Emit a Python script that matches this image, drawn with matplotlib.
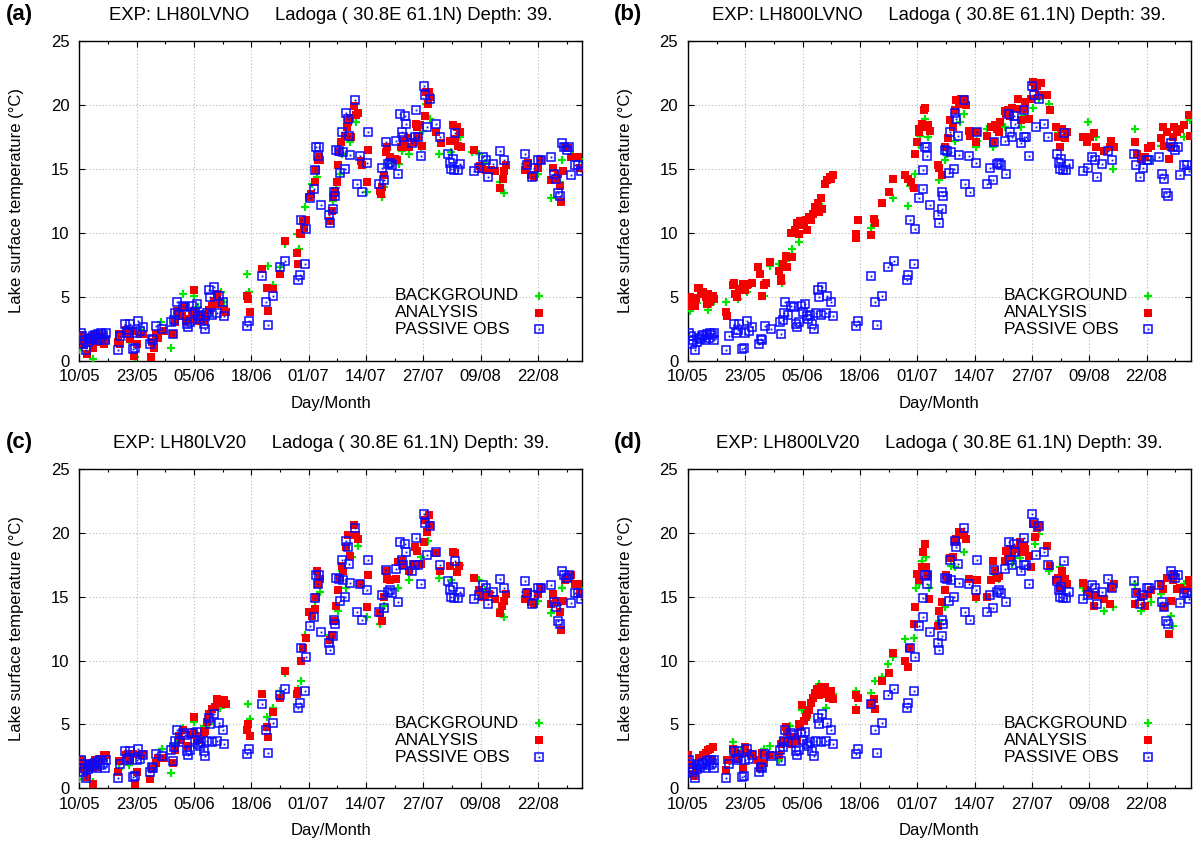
import numpy as np
from matplotlib import pyplot as plt

plt.rcParams["font.family"] = ["Liberation Sans", "DejaVu Sans"]

# x axis: days counted from 10 May
tick_days = [0, 13, 26, 39, 52, 65, 78, 91, 104]
tick_labels = ["10/05", "23/05", "05/06", "18/06", "01/07", "14/07", "27/07", "09/08", "22/08"]
y_ticks = [0, 5, 10, 15, 20, 25]

# passive observations (same in all four experiments), (day, temperature)
obs = [
    (0.3, 2.2), (0.6, 1.9), (0.9, 1.3), (1.2, 1.6), (1.6, 0.8), (2.0, 1.5), (2.4, 1.8), (2.8, 1.7),
    (3.1, 1.9), (3.5, 2.0), (3.9, 1.6), (4.3, 2.1), (4.7, 1.8), (5.0, 2.2), (5.4, 2.0), (5.8, 1.6),
    (6.0, 2.2), (8.7, 0.8), (9.2, 1.9), (10.4, 2.9), (10.8, 2.2), (11.3, 2.4), (11.6, 2.9), (12.2, 0.9),
    (12.6, 1.0), (13.0, 2.2), (13.3, 3.1), (13.8, 2.3), (14.5, 2.6), (16.1, 1.3), (16.5, 1.7), (16.8, 1.6),
    (17.4, 2.7), (18.8, 2.5), (20.8, 3.0), (21.2, 2.1), (21.5, 3.2), (21.7, 3.7), (22.1, 4.6), (22.6, 3.6),
    (23.4, 4.3), (24.0, 4.2), (24.5, 2.9), (24.7, 2.6), (25.1, 3.0), (25.6, 4.3), (26.2, 3.8), (26.6, 4.4),
    (26.9, 3.5), (27.3, 3.3), (27.7, 3.6), (28.2, 2.9), (28.6, 2.5), (29.0, 3.7), (29.4, 5.5), (29.7, 5.0),
    (30.1, 3.6), (30.5, 5.8), (31.2, 3.7), (31.6, 5.1), (32.5, 4.6), (32.9, 3.5), (38.1, 2.7), (38.5, 3.1),
    (41.5, 6.6), (42.4, 4.6), (42.8, 2.8), (43.9, 5.1), (45.4, 7.3), (46.7, 7.8), (49.6, 6.3), (50.0, 6.7),
    (50.3, 11.0), (51.2, 7.6), (51.5, 10.3), (52.3, 12.7), (53.2, 13.4), (53.4, 14.9), (53.7, 16.7), (54.1, 16.0),
    (54.3, 16.7), (54.8, 12.2), (56.6, 11.4), (56.9, 10.8), (57.5, 11.9), (57.7, 13.2), (57.9, 12.9), (58.2, 16.5),
    (58.8, 16.4), (59.1, 14.7), (59.5, 17.9), (59.7, 16.3), (60.3, 15.0), (60.5, 19.4), (60.9, 18.9), (61.2, 17.6),
    (61.4, 16.1), (62.5, 20.4), (62.9, 13.8), (63.7, 16.0), (64.0, 13.2), (65.3, 15.5), (65.5, 17.9), (67.9, 13.8),
    (68.6, 15.1), (69.2, 14.1), (69.5, 17.1), (70.1, 15.4), (70.5, 15.5), (71.0, 15.3), (71.8, 17.2), (72.2, 14.6),
    (72.7, 19.3), (73.1, 17.9), (73.5, 17.5), (73.9, 19.1), (74.1, 18.5), (75.5, 17.0), (76.1, 17.5), (76.3, 19.6),
    (76.7, 17.5), (77.4, 16.0), (78.1, 21.5), (78.5, 20.8), (78.9, 18.3), (79.5, 20.5), (80.8, 18.5), (81.7, 17.5),
    (83.6, 16.2), (84.1, 15.5), (84.4, 15.0), (84.7, 15.8), (85.0, 14.9), (85.3, 17.8), (85.8, 14.9), (86.4, 15.4),
    (89.5, 14.8), (90.7, 15.1), (91.6, 15.9), (92.2, 15.7), (92.7, 14.4), (93.9, 15.4), (95.3, 16.4), (96.2, 15.7),
    (101.1, 16.2), (101.5, 15.3), (102.6, 14.4), (103.1, 15.1), (104.1, 15.7), (104.6, 15.7), (106.9, 15.9), (107.6, 14.6),
    (108.0, 14.2), (108.5, 13.1), (108.9, 12.9), (109.5, 17.0), (110.0, 16.7), (110.5, 16.5), (111.1, 16.7), (111.6, 14.5),
    (112.4, 15.3), (113.2, 15.3), (113.7, 14.8),
]

# (a) LH80LVNO
an_a = [
    (0.0, 1.6), (0.5, 2.0), (1.0, 1.2), (1.4, 1.7), (1.8, 0.5), (2.2, 1.4), (2.6, 1.8), (3.0, 1.0), (3.5, 2.0),
    (4.0, 1.5), (4.7, 1.7), (5.2, 1.9), (5.7, 1.3), (6.1, 1.6), (8.8, 1.5), (9.0, 2.1), (9.2, 1.3), (10.5, 2.4),
    (11.0, 2.1), (11.6, 1.7), (12.0, 2.3), (12.5, 0.4), (13.0, 1.3), (13.7, 2.1), (14.5, 2.1), (16.2, 0.3),
    (16.5, 1.5), (16.9, 1.0), (17.4, 2.1), (17.8, 1.8), (19.1, 2.3), (21.2, 2.1), (21.7, 3.0), (22.1, 3.9),
    (22.5, 3.7), (23.2, 3.5), (23.8, 4.2), (24.3, 3.1), (25.1, 3.3), (25.6, 3.7), (26.0, 5.5), (26.1, 3.9),
    (26.6, 3.1), (27.3, 3.5), (27.8, 3.6), (28.2, 3.1), (28.8, 3.4), (29.4, 4.0), (30.0, 4.3), (30.6, 4.7),
    (31.2, 5.2), (31.6, 4.6), (32.0, 4.4), (32.7, 4.0), (33.2, 3.8), (38.1, 5.1), (38.3, 4.8), (38.7, 3.8),
    (41.5, 7.2), (42.6, 5.7), (42.8, 3.9), (43.9, 5.6), (45.4, 6.8), (46.6, 9.4), (49.3, 8.4), (49.7, 7.6),
    (50.0, 10.0), (50.3, 9.9), (50.7, 10.9), (51.0, 10.4), (51.5, 11.0), (52.1, 12.8), (52.5, 13.0), (53.4, 14.0),
    (53.7, 14.9), (54.1, 15.7), (54.3, 15.9), (54.6, 15.7), (56.9, 10.9), (57.2, 11.7), (57.5, 12.8), (58.0, 13.3),
    (58.4, 14.0), (58.7, 15.3), (59.0, 16.3), (59.4, 17.1), (60.2, 17.6), (60.6, 18.3), (61.0, 18.7), (61.3, 19.0),
    (61.6, 17.5), (62.4, 19.9), (62.8, 19.2), (63.1, 19.4), (63.8, 15.6), (64.2, 15.3), (65.2, 14.0), (65.5, 16.5),
    (68.1, 13.3), (68.5, 13.0), (68.6, 13.6), (69.1, 14.5), (69.6, 16.3), (69.8, 16.7), (70.5, 15.9), (71.5, 15.8),
    (72.0, 15.7), (73.0, 16.7), (73.3, 17.2), (74.5, 17.4), (74.8, 16.7), (75.8, 17.1), (76.3, 18.5), (76.6, 18.3),
    (76.9, 17.6), (77.2, 18.4), (77.8, 16.8), (78.3, 19.1), (78.7, 21.0), (79.0, 20.1), (79.3, 21.0), (79.6, 20.6),
    (81.0, 17.9), (82.0, 17.0), (84.1, 17.2), (84.7, 18.4), (85.1, 17.3), (85.6, 18.3), (85.9, 16.8), (86.3, 17.9),
    (86.5, 16.7), (89.5, 16.5), (90.9, 15.2), (91.3, 15.0), (92.3, 14.9), (93.4, 14.9), (94.2, 14.8), (95.5, 13.5),
    (96.0, 14.2), (96.4, 14.8), (96.8, 15.3), (101.1, 14.9), (101.7, 15.5), (102.4, 14.5), (103.2, 14.4),
    (104.1, 15.1), (104.6, 15.7), (106.9, 14.1), (107.4, 15.1), (108.0, 14.2), (108.6, 14.6), (109.1, 13.7),
    (109.3, 12.4), (109.7, 14.8), (110.2, 16.7), (110.8, 16.6), (111.4, 15.9), (112.3, 15.9), (113.2, 15.9),
    (113.6, 15.1),
]
bg_a = [
    (0.0, 0.8), (0.8, 1.5), (3.1, 0.1), (4.5, 1.9), (9.0, 1.4), (11.3, 1.6), (12.6, 0.3), (14.0, 2.4), (16.5, 1.2),
    (18.5, 3.0), (20.8, 1.0), (22.0, 3.4), (23.4, 5.2), (26.0, 5.1), (27.0, 4.2), (29.0, 3.6), (31.0, 4.9),
    (32.2, 5.4), (32.8, 4.6), (38.1, 6.8), (38.4, 5.4), (42.8, 7.4), (43.9, 5.9), (45.4, 7.3), (46.7, 9.1),
    (49.3, 9.9), (49.9, 8.7), (51.2, 12.0), (52.8, 13.8), (53.8, 14.4), (54.6, 15.7), (56.6, 11.7), (57.5, 12.5),
    (58.3, 13.5), (59.1, 14.6), (59.5, 16.2), (60.5, 17.6), (61.4, 17.1), (62.7, 18.7), (64.0, 15.4), (65.3, 13.2),
    (68.6, 12.8), (69.0, 13.6), (70.0, 15.5), (72.4, 15.4), (73.1, 16.4), (74.8, 16.2), (77.4, 16.7), (78.0, 18.0),
    (78.6, 20.1), (79.5, 18.9), (81.5, 16.2), (84.4, 16.3), (86.4, 17.5), (89.0, 16.3), (90.7, 16.2), (92.0, 15.5),
    (95.3, 14.0), (96.2, 13.1), (101.1, 15.4), (104.1, 14.6), (106.9, 12.7), (108.9, 14.0), (109.5, 15.7),
    (112.0, 16.1), (113.6, 15.8),
]

# (b) LH800LVNO
an_b = [
    (0.0, 4.3), (0.3, 4.6), (0.5, 5.0), (0.8, 4.5), (1.1, 4.7), (1.5, 4.3), (1.8, 4.9), (2.3, 5.7), (2.6, 5.7),
    (3.0, 5.4), (3.3, 5.4), (3.7, 5.2), (4.0, 5.0), (4.3, 4.4), (4.6, 5.2), (5.0, 4.6), (5.3, 4.9), (5.7, 5.1),
    (6.0, 4.8), (8.7, 3.8), (8.9, 3.5), (10.2, 5.9), (10.5, 6.1), (10.7, 5.2), (11.1, 5.0), (11.5, 5.6),
    (11.8, 5.5), (12.4, 6.0), (12.7, 5.7), (13.0, 5.5), (13.4, 5.9), (13.7, 6.0), (14.6, 6.1), (15.9, 7.3),
    (16.3, 6.8), (16.7, 5.1), (17.2, 5.9), (17.6, 6.1), (18.7, 7.7), (20.6, 7.0), (21.0, 6.5), (21.2, 6.2),
    (21.5, 7.6), (22.2, 8.2), (22.5, 7.3), (23.2, 8.1), (23.3, 10.0), (23.7, 8.1), (24.3, 10.2), (24.8, 10.8),
    (25.2, 9.9), (25.4, 10.9), (25.8, 10.6), (26.3, 10.8), (26.7, 11.0), (27.1, 10.2), (27.5, 11.2), (28.0, 11.0),
    (28.4, 11.5), (28.9, 12.0), (29.5, 12.3), (29.8, 11.6), (30.2, 12.7), (30.3, 11.9), (31.0, 13.8), (31.5, 14.1),
    (32.1, 14.4), (32.5, 14.2), (32.8, 14.5), (38.0, 9.9), (38.2, 9.6), (38.5, 11.0), (41.4, 9.8), (42.1, 11.1),
    (42.4, 10.8), (44.0, 12.3), (45.6, 13.2), (46.6, 14.2), (49.2, 14.5), (49.9, 14.2), (50.5, 14.0), (51.2, 13.5),
    (51.4, 16.2), (52.0, 17.1), (52.3, 17.9), (52.5, 18.1), (53.1, 18.5), (53.6, 19.6), (53.7, 19.8), (54.0, 18.3),
    (54.4, 18.4), (54.8, 18.0), (56.6, 15.3), (57.0, 15.1), (57.5, 14.5), (58.3, 16.7), (58.9, 17.4), (59.4, 18.8),
    (60.0, 18.3), (60.5, 19.6), (60.9, 20.4), (61.4, 20.1), (62.0, 20.5), (62.7, 20.5), (63.1, 20.0), (63.8, 18.0),
    (64.0, 17.6), (65.3, 17.1), (65.5, 17.9), (67.9, 17.6), (68.7, 18.3), (69.2, 17.1), (69.6, 18.4), (70.0, 18.1),
    (70.5, 17.9), (70.7, 18.7), (71.8, 19.5), (72.2, 19.3), (72.6, 19.6), (73.0, 19.1), (73.5, 19.8), (74.8, 20.5),
    (75.2, 19.7), (75.6, 18.8), (76.1, 19.7), (76.5, 20.2), (77.4, 18.9), (77.8, 20.5), (78.2, 21.8), (78.7, 21.3),
    (79.1, 21.5), (79.5, 20.8), (80.0, 21.7), (81.5, 20.8), (82.0, 19.6), (83.4, 18.3), (83.9, 17.5), (84.3, 16.7),
    (84.9, 18.1), (85.6, 17.4), (86.0, 17.9), (89.5, 17.5), (90.4, 17.1), (91.2, 17.5), (92.1, 17.8), (92.5, 16.7),
    (94.3, 16.4), (95.6, 16.7), (96.0, 17.2), (96.7, 16.7), (101.4, 17.1), (101.9, 16.2), (102.7, 15.8),
    (103.6, 15.9), (104.4, 16.6), (104.9, 16.8), (107.3, 17.4), (107.7, 18.3), (108.0, 16.8), (108.6, 17.9),
    (109.0, 15.8), (109.5, 16.7), (109.9, 17.5), (110.3, 18.3), (110.8, 17.9), (111.6, 18.1), (112.5, 18.4),
    (113.6, 19.2), (113.8, 17.6),
]
bg_b = [
    (0.5, 3.9), (2.0, 4.5), (4.6, 4.0), (5.2, 4.4), (8.7, 4.6), (11.3, 4.8), (13.3, 5.4), (17.2, 5.1), (18.7, 7.4),
    (20.6, 7.6), (21.3, 6.1), (22.2, 7.8), (23.5, 8.7), (25.1, 9.3), (30.5, 12.0), (41.4, 10.4), (46.6, 12.7),
    (50.0, 12.1), (50.3, 13.7), (51.4, 14.6), (52.3, 16.9), (52.7, 17.6), (53.7, 18.9), (54.4, 17.5), (57.0, 14.1),
    (58.3, 15.7), (58.7, 16.2), (60.5, 17.2), (61.8, 18.7), (62.7, 19.3), (65.3, 16.7), (65.5, 17.2), (67.9, 18.1),
    (69.2, 16.7), (71.8, 18.3), (73.2, 19.5), (75.6, 18.3), (76.1, 19.1), (78.2, 19.8), (79.5, 20.5), (81.8, 20.1),
    (83.9, 17.8), (85.2, 17.5), (90.8, 18.7), (92.5, 17.5), (96.4, 15.0), (101.4, 18.1), (104.9, 15.7),
    (107.3, 16.8), (109.3, 16.7), (112.5, 17.5), (113.8, 18.8),
]

# (c) LH80LV20
an_c = [
    (0.0, 1.8), (0.5, 2.2), (1.0, 1.5), (1.4, 2.0), (1.8, 0.9), (2.2, 1.6), (2.6, 2.0), (3.1, 0.3), (3.5, 2.2),
    (4.0, 1.7), (4.5, 2.3), (5.0, 2.1), (5.7, 2.6), (6.1, 2.6), (8.8, 1.3), (9.0, 2.1), (10.5, 2.6), (11.0, 2.7),
    (11.6, 2.2), (12.2, 2.7), (12.6, 0.3), (13.0, 1.3), (13.7, 2.6), (14.5, 2.7), (16.1, 0.7), (16.5, 1.5),
    (17.4, 2.0), (17.8, 2.4), (19.1, 2.4), (21.2, 2.0), (21.7, 3.0), (22.5, 4.1), (23.0, 3.8), (23.6, 4.6),
    (24.7, 3.3), (25.3, 4.2), (26.0, 5.6), (26.1, 4.4), (26.6, 3.8), (27.3, 4.1), (28.2, 4.3), (28.6, 4.5),
    (29.0, 5.2), (29.4, 5.8), (30.0, 6.2), (30.7, 6.4), (31.2, 7.0), (31.6, 6.7), (32.3, 6.9), (32.9, 6.9),
    (33.2, 6.6), (38.1, 4.6), (38.3, 5.0), (38.7, 4.1), (41.5, 7.4), (42.6, 4.8), (42.8, 4.0), (43.9, 6.0),
    (45.4, 7.1), (46.7, 9.2), (49.3, 7.4), (49.7, 7.6), (50.2, 10.0), (50.8, 11.0), (51.5, 11.8), (52.2, 13.8),
    (52.8, 13.5), (53.4, 14.0), (53.6, 15.0), (53.9, 17.0), (54.2, 16.0), (54.6, 16.4), (56.8, 11.6), (57.2, 12.0),
    (57.7, 13.1), (58.2, 14.3), (58.6, 15.5), (59.1, 16.5), (59.5, 17.4), (59.9, 17.0), (60.5, 18.9), (60.9, 19.8),
    (61.4, 18.2), (62.3, 20.6), (62.7, 19.8), (63.1, 19.5), (63.7, 16.0), (65.3, 14.2), (65.5, 16.7), (68.1, 13.7),
    (68.6, 13.1), (69.2, 15.0), (69.5, 17.0), (69.8, 16.4), (70.5, 16.3), (71.8, 16.4), (72.2, 17.7), (72.9, 17.8),
    (73.5, 17.5), (74.8, 17.0), (75.6, 17.6), (76.1, 18.9), (76.5, 18.6), (77.4, 17.6), (78.1, 19.3), (78.4, 21.0),
    (78.9, 20.1), (79.3, 21.4), (79.5, 20.6), (80.8, 18.4), (81.7, 17.0), (84.1, 17.4), (84.7, 18.5), (85.2, 18.4),
    (85.6, 16.9), (86.0, 17.4), (89.5, 16.5), (90.7, 15.5), (91.3, 15.0), (92.0, 15.0), (92.9, 15.2), (94.2, 14.8),
    (95.3, 13.7), (95.9, 14.3), (96.4, 14.7), (96.8, 15.2), (101.1, 14.8), (101.7, 15.4), (102.4, 14.6),
    (103.2, 14.4), (104.1, 15.2), (104.6, 15.7), (106.9, 14.4), (107.4, 15.2), (108.0, 14.7), (108.6, 14.6),
    (109.1, 13.8), (109.3, 12.4), (109.7, 14.7), (110.2, 16.3), (110.8, 16.5), (111.4, 16.7), (112.3, 16.0),
    (113.2, 16.0), (113.6, 15.2),
]
bg_c = [
    (0.0, 0.7), (0.8, 1.6), (3.1, 0.5), (4.5, 2.0), (9.0, 1.5), (11.3, 1.8), (12.6, 1.3), (14.0, 2.5), (18.7, 3.1),
    (20.8, 1.2), (22.0, 3.5), (23.4, 4.7), (26.0, 5.2), (28.2, 4.9), (29.5, 5.0), (32.0, 6.3), (32.8, 6.5),
    (38.3, 6.6), (38.6, 5.4), (42.6, 5.6), (43.9, 6.3), (45.4, 7.6), (46.7, 9.0), (49.6, 7.8), (50.2, 8.4),
    (51.2, 12.0), (53.4, 14.7), (54.5, 15.4), (56.8, 12.0), (58.6, 13.9), (59.5, 17.0), (60.5, 15.7), (61.8, 18.1),
    (63.1, 19.0), (65.3, 13.4), (68.1, 12.9), (69.2, 14.3), (72.2, 15.7), (74.8, 16.3), (77.4, 18.1), (79.0, 19.4),
    (81.5, 16.5), (84.4, 16.3), (86.4, 17.5), (90.7, 16.3), (92.0, 15.5), (95.3, 14.0), (96.2, 13.4), (101.1, 15.4),
    (104.1, 14.7), (106.9, 13.7), (108.9, 13.9), (109.5, 15.7), (113.6, 15.7),
]

# (d) LH800LV20
an_d = [
    (0.0, 2.6), (0.5, 1.8), (1.1, 1.1), (1.5, 1.0), (2.0, 1.6), (2.6, 2.4), (3.3, 2.6), (4.0, 2.8), (4.6, 3.0),
    (5.0, 3.1), (5.4, 2.2), (5.7, 3.2), (8.7, 1.4), (8.9, 2.2), (10.2, 3.1), (10.7, 2.7), (11.1, 2.3), (11.8, 2.7),
    (12.4, 1.6), (13.0, 3.2), (13.7, 2.8), (14.6, 2.7), (15.9, 2.2), (16.3, 1.6), (16.7, 2.8), (17.2, 2.0),
    (18.7, 2.6), (20.6, 2.6), (21.0, 3.5), (21.5, 3.7), (22.2, 4.8), (22.5, 4.4), (23.2, 3.9), (23.7, 3.5),
    (24.3, 4.0), (24.8, 3.7), (25.2, 5.0), (25.4, 4.8), (25.8, 6.5), (26.3, 5.3), (26.7, 5.6), (27.1, 5.8),
    (27.5, 6.1), (28.0, 6.7), (28.4, 7.1), (28.9, 7.5), (29.3, 7.8), (29.7, 7.3), (30.2, 7.9), (30.6, 7.4),
    (31.0, 7.9), (31.5, 7.6), (31.9, 7.1), (32.5, 7.6), (32.8, 7.0), (38.0, 6.1), (38.2, 7.3), (38.5, 7.1),
    (41.4, 6.6), (42.1, 7.0), (42.4, 6.2), (44.0, 8.4), (45.6, 9.0), (46.6, 10.6), (49.2, 10.0), (49.9, 9.5),
    (50.2, 11.0), (51.2, 12.9), (51.4, 14.2), (52.0, 16.8), (52.3, 16.3), (53.1, 17.3), (53.4, 18.5), (53.7, 19.1),
    (54.0, 17.3), (54.4, 16.7), (54.6, 14.8), (56.6, 12.7), (57.0, 13.9), (57.5, 14.6), (58.3, 15.5), (58.5, 16.7),
    (58.9, 16.5), (59.4, 18.0), (60.0, 18.1), (60.5, 19.3), (60.9, 19.5), (61.4, 20.1), (62.0, 20.1), (62.7, 19.8),
    (63.1, 19.5), (63.8, 16.4), (65.3, 15.0), (65.5, 16.3), (67.9, 15.0), (68.7, 16.3), (69.2, 17.8), (69.6, 17.0),
    (70.0, 16.5), (70.5, 16.6), (71.8, 17.8), (72.2, 18.6), (72.6, 18.3), (73.0, 18.7), (73.5, 18.1), (74.8, 18.7),
    (75.2, 19.3), (75.6, 18.5), (76.1, 19.0), (76.5, 18.7), (77.4, 18.2), (77.8, 17.3), (78.2, 20.7), (78.7, 19.7),
    (79.1, 20.4), (79.5, 20.6), (81.5, 19.0), (82.0, 17.4), (83.4, 16.3), (83.9, 16.5), (84.3, 15.7), (84.9, 17.0),
    (85.6, 16.4), (86.0, 16.0), (89.5, 16.1), (90.4, 15.5), (91.2, 15.2), (92.1, 14.3), (92.5, 15.1), (94.3, 14.8),
    (95.6, 14.4), (96.0, 15.7), (96.7, 16.0), (101.4, 14.4), (101.9, 15.4), (102.7, 15.0), (103.6, 14.3),
    (104.4, 15.2), (104.9, 15.5), (107.3, 16.0), (107.7, 15.6), (108.0, 14.2), (108.6, 16.5), (109.0, 12.1),
    (109.5, 14.7), (109.9, 16.3), (110.3, 16.8), (110.8, 15.6), (111.6, 15.7), (112.5, 15.5), (113.6, 16.3),
    (113.8, 15.7),
]
bg_d = [
    (1.1, 1.6), (3.0, 2.4), (10.2, 3.6), (12.0, 3.0), (17.3, 3.1), (18.7, 3.3), (20.6, 2.2), (23.2, 4.9),
    (25.8, 6.1), (27.0, 5.5), (29.7, 8.2), (31.3, 6.3), (32.8, 7.4), (38.0, 7.6), (38.2, 6.3), (41.4, 7.5),
    (42.4, 8.4), (43.9, 8.7), (45.3, 9.7), (46.6, 10.3), (49.2, 11.7), (51.2, 11.8), (51.8, 15.7), (52.3, 16.0),
    (53.1, 17.8), (54.0, 18.1), (54.6, 15.7), (56.9, 13.1), (58.3, 14.2), (59.6, 17.4), (60.5, 17.3), (62.7, 18.5),
    (65.3, 14.8), (69.2, 16.5), (70.5, 16.4), (73.5, 17.6), (75.2, 18.0), (78.7, 19.1), (79.5, 19.9), (81.8, 17.0),
    (84.3, 17.3), (89.5, 15.7), (94.3, 13.9), (96.4, 14.2), (101.4, 16.0), (102.7, 13.9), (104.9, 14.6),
    (107.3, 15.2), (109.5, 13.5), (109.9, 12.7), (112.5, 16.0), (113.8, 16.3),
]

panel_letters = ["(a)", "(b)", "(c)", "(d)"]
experiments = ["LH80LVNO", "LH800LVNO", "LH80LV20", "LH800LV20"]
backgrounds = [bg_a, bg_b, bg_c, bg_d]
analyses = [an_a, an_b, an_c, an_d]
key_labels = ["BACKGROUND", "ANALYSIS", "PASSIVE OBS"]

GREEN = "#00e400"
RED = "#f40000"
BLUE = "#0a0aff"

bg_style = dict(ls="none", marker="+", ms=6, mew=1.6, color=GREEN)
an_style = dict(ls="none", marker="s", ms=5.4, mew=0, color=RED)
obs_style = dict(ls="none", marker="s", ms=5.6, mew=1.1, mfc="none", mec=BLUE)
dot_style = dict(ls="none", marker="s", ms=1.3, mew=0, color=BLUE)

# axes boxes in figure fraction (left, bottom, width, height)
ax_boxes = [
    [0.0661, 0.5726, 0.4189, 0.3788],
    [0.5733, 0.5726, 0.4189, 0.3788],
    [0.0661, 0.0660, 0.4189, 0.3783],
    [0.5733, 0.0660, 0.4189, 0.3783],
]


def plot_panel(ax, letter, exp, bg, an):
    bx, by = np.array(bg).T
    anx, any_ = np.array(an).T
    ox, oy = np.array(obs).T
    ax.plot(bx, by, zorder=3, **bg_style)
    ax.plot(anx, any_, zorder=4, **an_style)
    ax.plot(ox, oy, zorder=5, **obs_style)
    ax.plot(ox, oy, zorder=5, **dot_style)

    ax.set_xlim(0, 114)
    ax.set_ylim(0, 25)
    ax.set_xticks(tick_days)
    ax.set_xticklabels(tick_labels)
    ax.set_xticks([d + 6.5 for d in tick_days], minor=True)
    ax.set_yticks(y_ticks)
    ax.tick_params(which="both", direction="in", top=True, right=True, labelsize=12)
    ax.tick_params(which="major", length=4.5, width=0.8)
    ax.tick_params(which="minor", length=2.5, width=0.8)
    ax.tick_params(axis="x", pad=6)
    ax.tick_params(axis="y", pad=7)
    ax.grid(True, which="major", color="#b8b8b8", ls=(0, (1, 2)), lw=0.8)
    for sp in ax.spines.values():
        sp.set_linewidth(1.0)

    ax.set_xlabel("Day/Month", fontsize=12)
    ax.xaxis.set_label_coords(0.5, -0.11)
    ax.set_ylabel("Lake surface temperature (°C)", fontsize=12)
    ax.yaxis.set_label_coords(-0.11, 0.5)

    ax.text(0.5, 1.08, f"EXP: {exp}     Ladoga ( 30.8E 61.1N) Depth: 39.",
            transform=ax.transAxes, ha="center", va="center", fontsize=13.3)
    ax.text(-0.12, 1.084, letter, transform=ax.transAxes, ha="center", va="center",
            fontsize=16, fontweight="bold")

    # gnuplot-style key: left aligned text, sample at the right
    key_rows = [0.203, 0.150, 0.098]
    styles = [[bg_style], [an_style], [obs_style, dot_style]]
    for lab, yk, sts in zip(key_labels, key_rows, styles):
        ax.text(0.628, yk, lab, transform=ax.transAxes, ha="left", va="center",
                fontsize=12.5, zorder=6)
        for st in sts:
            ax.plot([0.9145], [yk], transform=ax.transAxes, clip_on=False, zorder=6, **st)


fig = plt.figure(figsize=(12, 8.44), dpi=100)
for i in range(4):
    ax = fig.add_axes(ax_boxes[i])
    plot_panel(ax, panel_letters[i], experiments[i], backgrounds[i], analyses[i])

fig.savefig("out.png", dpi=100)
